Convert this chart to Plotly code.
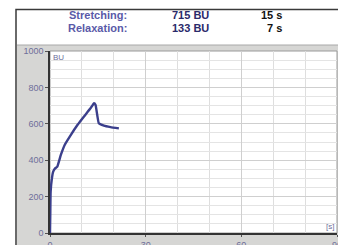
import plotly.graph_objects as go

# page body adds an 8px margin; figure is sized so everything lands at the reference pixels
OFF = 8
W, H = 346 - OFF, 245 - OFF

# Data
time_s = [0.0, 0.1, 0.2, 0.6, 1.0, 1.6, 2.3, 3.4, 4.6, 6.5, 8.6, 10.6, 12.7, 13.8, 14.3, 15.3, 16.9, 19.0, 21.6]
force_bu = [0, 120, 227, 300, 337, 355, 365, 429, 484, 538, 593, 639, 685, 713, 703, 603, 590, 582, 575]

x_tick_vals = [0, 30, 60, 90]
y_tick_vals = [0, 200, 400, 600, 800, 1000]

header_labels = ["Stretching:", "Relaxation:"]
header_values = ["715 BU", "133 BU"]
header_times = ["15 s", "7 s"]


def px(x):
    return (x - OFF) / W


def py(y):
    return 1 - (y - OFF) / H


fig = go.Figure()
fig.add_trace(go.Scatter(
    x=time_s, y=force_bu, mode="lines",
    line=dict(color="#3b3f8c", width=2.4, shape="spline", smoothing=0.3),
    hoverinfo="skip", showlegend=False,
))

tick_font = dict(family="Liberation Sans, Arial", size=9, color="#6e6e9a")

fig.update_layout(
    width=W, height=H,
    margin=dict(l=0, r=0, t=0, b=0),
    paper_bgcolor="white",
    plot_bgcolor="white",
    showlegend=False,
    xaxis=dict(
        domain=[px(50), px(337)],
        range=[0, 90],
        automargin=False,
        tickvals=x_tick_vals,
        ticktext=[str(v) for v in x_tick_vals],
        showgrid=True, gridcolor="#cfcfcf", gridwidth=1,
        minor=dict(dtick=10, showgrid=True, gridcolor="#dedede", gridwidth=1),
        showline=True, linecolor="#333333", linewidth=1.5,
        ticks="outside", ticklen=2, tickcolor="#555555",
        tickfont=tick_font,
        zeroline=False, fixedrange=True,
    ),
    yaxis=dict(
        domain=[py(233), py(51)],
        range=[0, 1000],
        automargin=False,
        tickvals=y_tick_vals,
        ticktext=[str(v) for v in y_tick_vals],
        showgrid=True, gridcolor="#cfcfcf", gridwidth=1,
        minor=dict(dtick=50, showgrid=True, gridcolor="#e4e4e4", gridwidth=1),
        showline=True, linecolor="#333333", linewidth=1.5,
        ticks="outside", ticklen=3, tickcolor="#555555",
        tickfont=tick_font,
        zeroline=False, fixedrange=True,
    ),
)

shapes = []
# gray chart background under the header
shapes.append(dict(type="rect", xref="paper", yref="paper",
                   x0=px(17), x1=px(341), y0=py(250), y1=py(45),
                   line=dict(width=0), fillcolor="#d6d6d4", layer="below"))
# white plot area
shapes.append(dict(type="rect", xref="paper", yref="paper",
                   x0=px(50), x1=px(337), y0=py(233), y1=py(51),
                   line=dict(width=0), fillcolor="white", layer="below"))
# header separator line
shapes.append(dict(type="line", xref="paper", yref="paper",
                   x0=px(17), x1=px(341), y0=py(45), y1=py(45),
                   line=dict(color="#a8a8a8", width=1), layer="below"))
# header inner right shadow
shapes.append(dict(type="line", xref="paper", yref="paper",
                   x0=px(340), x1=px(340), y0=py(44), y1=py(10),
                   line=dict(color="#c8c8c8", width=1), layer="below"))
# plot area border
shapes.append(dict(type="rect", xref="paper", yref="paper",
                   x0=px(50), x1=px(337), y0=py(233), y1=py(51),
                   line=dict(color="#9a9a9a", width=1), layer="below"))
# outer frame
shapes.append(dict(type="rect", xref="paper", yref="paper",
                   x0=px(16), x1=px(342), y0=py(250), y1=py(9.5),
                   line=dict(color="#3a3a3a", width=1.5), layer="above"))
fig.update_layout(shapes=shapes)

annotations = []
label_font = dict(family="Liberation Sans, Arial", size=11, color="#5a5aa8")
value_font = dict(family="Liberation Sans, Arial", size=11, color="#2a2a6a")
time_font = dict(family="Liberation Sans, Arial", size=11, color="#111111")
rows_y = [14.5, 28]
for i in range(2):
    annotations.append(dict(x=px(129), y=py(rows_y[i]), xref="paper", yref="paper",
                            text="<b>%s</b>" % header_labels[i], showarrow=False,
                            xanchor="right", yanchor="middle", font=label_font))
    annotations.append(dict(x=px(211), y=py(rows_y[i]), xref="paper", yref="paper",
                            text="<b>%s</b>" % header_values[i], showarrow=False,
                            xanchor="right", yanchor="middle", font=value_font))
    annotations.append(dict(x=px(284), y=py(rows_y[i]), xref="paper", yref="paper",
                            text="<b>%s</b>" % header_times[i], showarrow=False,
                            xanchor="right", yanchor="middle", font=time_font))
# unit labels inside plot
annotations.append(dict(x=px(51), y=py(57), xref="paper", yref="paper", text="BU",
                        showarrow=False, xanchor="left", yanchor="middle",
                        font=dict(family="Liberation Sans, Arial", size=8, color="#6e6e9a")))
annotations.append(dict(x=px(336), y=py(226), xref="paper", yref="paper", text="[s]",
                        showarrow=False, xanchor="right", yanchor="middle",
                        font=dict(family="Liberation Sans, Arial", size=8, color="#6e6e9a")))
fig.update_layout(annotations=annotations)

fig.write_html("out.html")
